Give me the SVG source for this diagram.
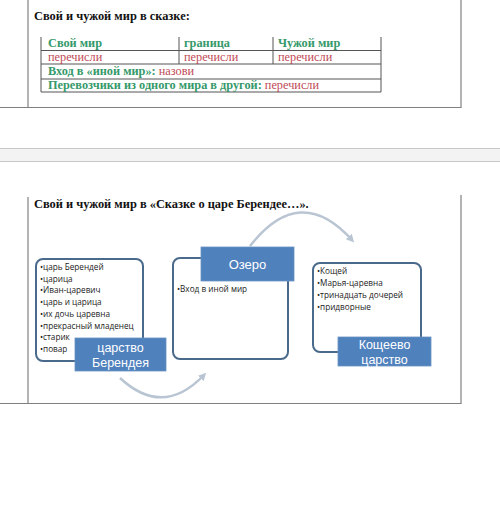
<svg xmlns="http://www.w3.org/2000/svg" width="500" height="516" viewBox="0 0 500 516">
<defs>
<style>
.frame{stroke:#808080;stroke-width:1.2;fill:none}
.tline{stroke:#555;stroke-width:1;fill:none}
.ttl{font-family:"Liberation Serif",serif;font-weight:bold;font-size:12.4px;fill:#111}
.g{font-family:"Liberation Serif",serif;font-weight:bold;font-size:12.3px;fill:#35996a}
.r{font-family:"Liberation Serif",serif;font-weight:normal;font-size:12.3px;fill:#bf4a55}
.box{fill:#fff;stroke:#4a6a8c;stroke-width:2}
.lbl{fill:#4f81bd;stroke:#6a93c4;stroke-width:0.8}
.lt{font-family:"Liberation Sans",sans-serif;font-size:12.5px;fill:#fff;text-anchor:middle}
.it{font-family:"Open Sans","Liberation Sans",sans-serif;font-size:8.2px;fill:#222}
.arc{fill:none;stroke:#b9c5d3;stroke-width:2.5}
</style>
<marker id="ah" viewBox="0 0 10 10" refX="6" refY="5" markerWidth="3.2" markerHeight="3.2" orient="auto">
<path d="M0,0 L10,5 L0,10 z" fill="#b9c5d3"/>
</marker>
</defs>
<rect width="500" height="516" fill="#fff"/>

<!-- top page section -->
<g id="page1">
<line class="frame" x1="28" y1="0" x2="28" y2="108"/>
<line class="frame" x1="461" y1="0" x2="461" y2="108"/>
<line class="frame" x1="0" y1="107.5" x2="461" y2="107.5"/>
<text class="ttl" x="34" y="20">Свой и чужой мир в сказке:</text>
</g>

<g id="table">
<line class="tline" x1="41" y1="37" x2="41" y2="92"/>
<line class="tline" x1="381" y1="37" x2="381" y2="92"/>
<line class="tline" x1="179" y1="37" x2="179" y2="64"/>
<line class="tline" x1="273" y1="37" x2="273" y2="64"/>
<line class="tline" x1="41" y1="50.5" x2="381" y2="50.5"/>
<line class="tline" x1="41" y1="64" x2="381" y2="64"/>
<line class="tline" x1="41" y1="79" x2="381" y2="79"/>
<line class="tline" x1="41" y1="92" x2="381" y2="92"/>
<text class="g" x="48" y="47">Свой мир</text>
<text class="g" x="184" y="47">граница</text>
<text class="g" x="278" y="47">Чужой мир</text>
<text class="r" x="48" y="61">перечисли</text>
<text class="r" x="184" y="61">перечисли</text>
<text class="r" x="278" y="61">перечисли</text>
<text x="48" y="75"><tspan class="g">Вход в «иной мир»:</tspan><tspan class="r"> назови</tspan></text>
<text x="48" y="89"><tspan class="g">Перевозчики из одного мира в другой:</tspan><tspan class="r"> перечисли</tspan></text>
</g>

<!-- separator band -->
<g id="band">
<rect x="0" y="148.5" width="500" height="13" fill="#f3f3f3"/>
<line x1="0" y1="148.5" x2="500" y2="148.5" stroke="#c8c8c8" stroke-width="1"/>
<line x1="0" y1="161.5" x2="500" y2="161.5" stroke="#c8c8c8" stroke-width="1"/>
</g>

<!-- bottom page section -->
<g id="page2">
<line class="frame" x1="28" y1="197" x2="28" y2="404"/>
<line class="frame" x1="461" y1="195" x2="461" y2="404"/>
<line class="frame" x1="0" y1="403.5" x2="461" y2="403.5"/>
<text class="ttl" x="34" y="208">Свой и чужой мир в «Сказке о царе Берендее…».</text>
</g>

<g id="connectors">
<path class="arc" d="M250,246 Q300,182 352,240" marker-end="url(#ah)"/>
<path class="arc" d="M120,378 Q163,418 204,375" marker-end="url(#ah)"/>
</g>

<g id="node-berendey">
<rect class="box" x="36" y="259" width="107" height="102" rx="7"/>
<text class="it" x="40" y="270">•царь Берендей</text>
<text class="it" x="40" y="281.7">•царица</text>
<text class="it" x="40" y="293.4">•Иван-царевич</text>
<text class="it" x="40" y="305.1">•царь и царица</text>
<text class="it" x="40" y="316.8">•их дочь царевна</text>
<text class="it" x="40" y="328.5">•прекрасный младенец</text>
<text class="it" x="40" y="340.2">•старик</text>
<text class="it" x="40" y="351.9">•повар</text>
<rect class="lbl" x="75" y="338" width="91" height="33"/>
<text class="lt" x="120.5" y="352">царство</text>
<text class="lt" x="120.5" y="367">Берендея</text>
</g>

<g id="node-ozero">
<rect class="box" x="173" y="258" width="115" height="101" rx="7"/>
<rect class="lbl" x="201" y="247" width="93" height="34"/>
<text class="lt" x="247.5" y="269" style="font-size:13px">Озеро</text>
<text class="it" x="177" y="291.5">•Вход в иной мир</text>
</g>

<g id="node-koshchei">
<rect class="box" x="313" y="263" width="108" height="89" rx="7"/>
<text class="it" x="317" y="274">•Кощей</text>
<text class="it" x="317" y="286">•Марья-царевна</text>
<text class="it" x="317" y="298">•тринадцать дочерей</text>
<text class="it" x="317" y="310">•придворные</text>
<rect class="lbl" x="338" y="337" width="93" height="29"/>
<text class="lt" x="384.5" y="349">Кощеево</text>
<text class="lt" x="384.5" y="364">царство</text>
</g>
</svg>
